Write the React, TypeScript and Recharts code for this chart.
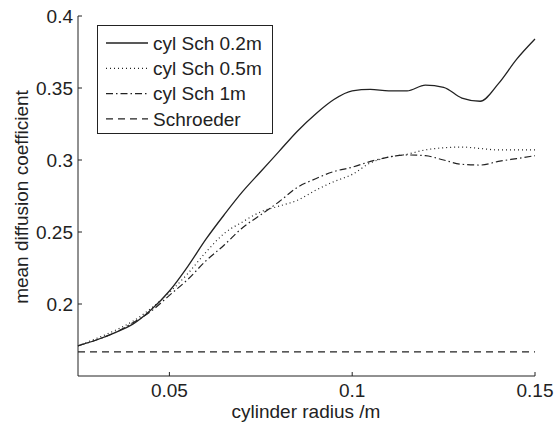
import { Legend, Line, LineChart, ReferenceLine, XAxis, YAxis } from 'recharts'

// cylinder radius in metres
const radius = [
  0.025, 0.03, 0.035, 0.04, 0.045, 0.05, 0.055, 0.06, 0.065, 0.07, 0.075, 0.08, 0.085,
  0.09, 0.095, 0.1, 0.105, 0.11, 0.115, 0.12, 0.125, 0.13, 0.135, 0.14, 0.145, 0.15,
]

const cylSch02 = [
  0.171, 0.175, 0.18, 0.186, 0.196, 0.209, 0.226, 0.245, 0.262, 0.278, 0.292, 0.306, 0.32,
  0.332, 0.342, 0.348, 0.349, 0.348, 0.348, 0.352, 0.3505, 0.343, 0.3408, 0.353, 0.37, 0.384,
]

const cylSch05 = [
  0.171, 0.176, 0.1815, 0.188, 0.197, 0.208, 0.221, 0.236, 0.249, 0.257, 0.264, 0.268, 0.272,
  0.279, 0.285, 0.29, 0.298, 0.302, 0.304, 0.307, 0.3085, 0.309, 0.308, 0.307, 0.307, 0.307,
]

const cylSch1 = [
  0.171, 0.175, 0.18, 0.187, 0.195, 0.206, 0.217, 0.23, 0.241, 0.253, 0.262, 0.271, 0.281,
  0.287, 0.292, 0.295, 0.299, 0.302, 0.3035, 0.303, 0.3, 0.297, 0.2965, 0.299, 0.301, 0.303,
]

const schroeder = 0.1667

const xTicks = [0.05, 0.1, 0.15]
const yTicks = [0.2, 0.25, 0.3, 0.35, 0.4]

const rows = radius.map((r, i) => ({ r, a: cylSch02[i], b: cylSch05[i], c: cylSch1[i] }))

const INK = '#222'
const FONT = '"Liberation Sans", Arial, Helvetica, sans-serif'
const FS = 19

const legendItems = [
  { name: 'cyl Sch 0.2m', dash: undefined as string | undefined, width: 1.3 },
  { name: 'cyl Sch 0.5m', dash: '1 3', width: 1.2 },
  { name: 'cyl Sch 1m', dash: '7 3 1.5 3', width: 1.2 },
  { name: 'Schroeder', dash: '7 5', width: 1.2 },
]

function LegendBox() {
  return (
    <svg width={176} height={109} style={{ display: 'block' }}>
      <rect x={0.5} y={0.5} width={175} height={108} fill="#fff" stroke={INK} strokeWidth={1} />
      {legendItems.map((it, i) => {
        const y = 18 + i * 25.3
        return (
          <g key={it.name}>
            <line x1={9} x2={51} y1={y} y2={y} stroke={INK} strokeWidth={it.width} strokeDasharray={it.dash} />
            <text x={56} y={y} dy="0.35em" fontSize={FS} fontFamily={FONT} fill={INK}>
              {it.name}
            </text>
          </g>
        )
      })}
    </svg>
  )
}

export default function App() {
  // fixed at the page corner so the 8px body margin can't add scrollbars
  return (
    <div style={{ position: 'fixed', left: 0, top: 0, width: 556, height: 425, fontFamily: FONT, background: '#fff' }}>
      <LineChart width={556} height={425} data={rows} margin={{ top: 16, right: 21, bottom: 9, left: 18 }}>
        <XAxis
          dataKey="r"
          type="number"
          domain={[0.025, 0.15]}
          ticks={xTicks}
          tickFormatter={(v) => `${v}`}
          height={40}
          stroke={INK}
          tickSize={-4}
          tickMargin={12}
          tick={{ fill: INK, fontSize: FS, fontFamily: FONT }}
          label={() => (
            <text x={306} y={411} textAnchor="middle" dominantBaseline="central" fontSize={FS} fontFamily={FONT} fill={INK}>
              cylinder radius /m
            </text>
          )}
        />
        <YAxis
          type="number"
          domain={[0.15, 0.4]}
          ticks={yTicks}
          tickFormatter={(v) => `${v}`}
          width={60}
          stroke={INK}
          tickSize={-4}
          tickMargin={9}
          tick={{ fill: INK, fontSize: FS, fontFamily: FONT }}
          label={() => (
            <text
              x={21}
              y={197}
              transform="rotate(-90 21 197)"
              textAnchor="middle"
              dominantBaseline="central"
              fontSize={FS}
              fontFamily={FONT}
              fill={INK}
            >
              mean diffusion coefficient
            </text>
          )}
        />
        <ReferenceLine y={schroeder} stroke={INK} strokeWidth={1.2} strokeDasharray="7 5" />
        <Line type="monotone" dataKey="a" stroke={INK} strokeWidth={1.3} dot={false} isAnimationActive={false} />
        <Line type="monotone" dataKey="b" stroke={INK} strokeWidth={1.2} strokeDasharray="1 3" dot={false} isAnimationActive={false} />
        <Line type="monotone" dataKey="c" stroke={INK} strokeWidth={1.2} strokeDasharray="7 3 1.5 3" dot={false} isAnimationActive={false} />
        <Legend
          layout="vertical"
          align="center"
          verticalAlign="middle"
          wrapperStyle={{ left: 97, top: 25, width: 176, height: 109 }}
          content={() => <LegendBox />}
        />
      </LineChart>
    </div>
  )
}
